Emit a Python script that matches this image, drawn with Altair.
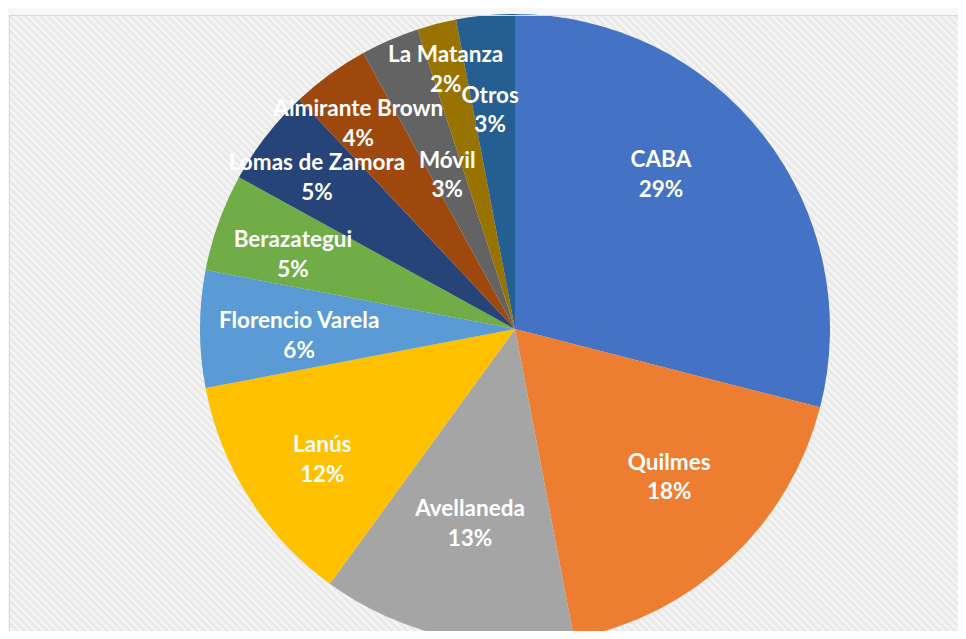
import math
import altair as alt
import pandas as pd

# ---- data ----
names = ["CABA", "Quilmes", "Avellaneda", "Lanús", "Florencio Varela", "Berazategui",
         "Lomas de Zamora", "Almirante Brown", "Móvil", "La Matanza", "Otros"]
values = [29, 18, 13, 12, 6, 5, 5, 4, 3, 2, 3]
colors = ["#4472C4", "#ED7D31", "#A5A5A5", "#FFC000", "#5B9BD5", "#70AD47",
          "#264478", "#9E480E", "#636363", "#997300", "#255E91"]

# ---- label layout (distance from centre and angular nudge, per slice) ----
label_radius = [212, 214, 200, 233, 216, 234, 249, 258, 168, 268, 220]
label_nudge_deg = [-8.7, -2.9, 0.4, -1.8, -1.9, -1.4, -0.5, -1.4, -0.4, -0.6, -1.1]

W, H = 949, 616
CX, CY, R = 506, 314, 315

total = sum(values)
cum = 0
mids = []
for v in values:
    mids.append((cum + v / 2) / total * 360)
    cum += v

lx, ly = [], []
for m, n, r in zip(mids, label_nudge_deg, label_radius):
    a = math.radians(m + n)
    lx.append(CX + r * math.sin(a))
    ly.append(CY - r * math.cos(a))

df = pd.DataFrame({
    "name": names,
    "value": values,
    "idx": list(range(len(names))),
    "label": [f"{n}\n{v}%" for n, v in zip(names, values)],
    "lx": lx,
    "ly": ly,
})

one = pd.DataFrame({"k": [0]})

# ---- hatched background (diagonal stripes) ----
period = 5.3
side = max(W, H)
n_per = int(side * math.sqrt(2) / period)
stops = []
for i in range(n_per):
    stops.append(alt.GradientStop(offset=i / n_per, color="#ffffff"))
    stops.append(alt.GradientStop(offset=(i + 0.5) / n_per, color="#eeeeee"))
stops.append(alt.GradientStop(offset=1, color="#ffffff"))
hatch_fill = alt.LinearGradient(gradient="linear", stops=stops, x1=0, y1=1, x2=1, y2=0)

hatch = alt.Chart(one).mark_rect(fill=hatch_fill, clip=True).encode(
    x=alt.value(0), x2=alt.value(side), y=alt.value(0), y2=alt.value(side)
)

# ---- soft shadow around the pie ----
rings = pd.DataFrame({"r": [317, 319, 321, 323, 325, 327]})
shadow = alt.Chart(rings).mark_arc(theta=0, theta2=2 * math.pi, fill="black", opacity=0.03).encode(
    radius=alt.Radius("r:Q", scale=None), x=alt.value(CX), y=alt.value(CY)
)

pie = alt.Chart(df).mark_arc(radius=R).encode(
    theta=alt.Theta("value:Q", stack=True),
    color=alt.Color("name:N", scale=alt.Scale(domain=names, range=colors), legend=None),
    order=alt.Order("idx:Q"),
    x=alt.value(CX),
    y=alt.value(CY),
)

labels = alt.Chart(df).mark_text(
    font="Lato", fontWeight="bold", fontSize=22.5, color="white",
    lineBreak="\n", lineHeight=29.5, align="center", baseline="middle", dy=-14.75,
).encode(
    x=alt.X("lx:Q", scale=None, axis=None),
    y=alt.Y("ly:Q", scale=None, axis=None),
    text="label:N",
)

border_top = alt.Chart(one).mark_rule(color="#d9d9d9", strokeWidth=1).encode(
    x=alt.value(0), x2=alt.value(W), y=alt.value(0.5)
)
border_left = alt.Chart(one).mark_rule(color="#d9d9d9", strokeWidth=1).encode(
    x=alt.value(0.5), y=alt.value(0), y2=alt.value(H)
)

chart = alt.layer(hatch, shadow, pie, labels, border_top, border_left).properties(
    width=W, height=H,
    autosize=alt.AutoSizeParams(type="none"),
    padding={"left": 1, "top": 7, "right": 0, "bottom": 0},
    background="white",
).configure_view(stroke=None)

chart.save("out.html", embed_options={"renderer": "svg", "actions": False})
